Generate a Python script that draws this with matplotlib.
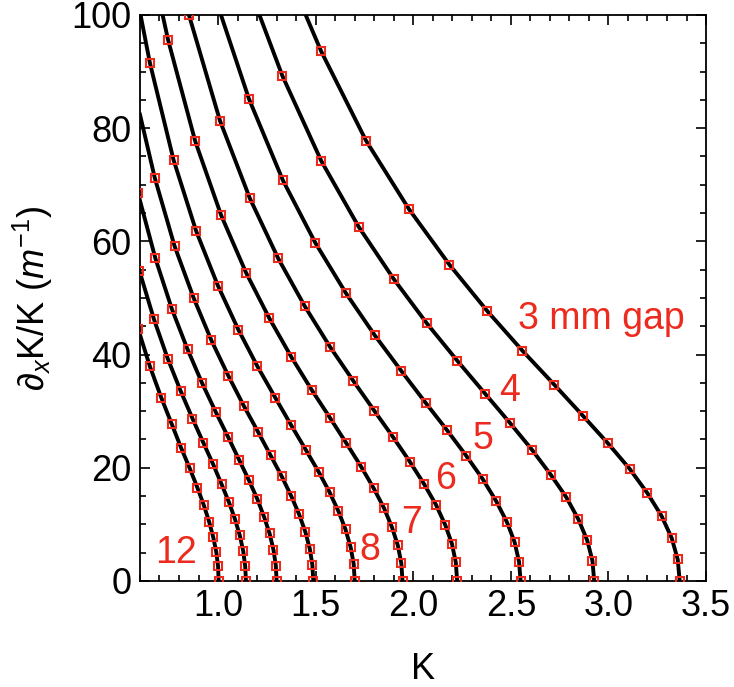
import matplotlib
matplotlib.use("Agg")
import matplotlib.pyplot as plt
from matplotlib.ticker import MultipleLocator

plt.rcParams["font.family"] = ["Liberation Sans", "DejaVu Sans"]
plt.rcParams["mathtext.fontset"] = "custom"
plt.rcParams["mathtext.rm"] = "Liberation Sans"
plt.rcParams["mathtext.it"] = "Liberation Sans:italic"

# puntos rojos (K, dK/K), uno por gap
gaps = [3, 4, 5, 6, 7, 8, 9, 10, 11, 12]

K_g3 = [3.365, 3.355, 3.324, 3.272, 3.200, 3.109, 2.998, 2.869, 2.722, 2.559, 2.379, 2.185, 1.978, 1.758, 1.528]
d_g3 = [0, 3.8, 7.6, 11.5, 15.5, 19.8, 24.3, 29.2, 34.7, 40.7, 47.7, 55.9, 65.7, 77.8, 93.6]

K_g4 = [2.927, 2.918, 2.891, 2.846, 2.784, 2.704, 2.608, 2.496, 2.368, 2.226, 2.070, 1.901, 1.720, 1.529, 1.329]
d_g4 = [0, 3.6, 7.2, 10.9, 14.8, 18.8, 23.2, 27.9, 33.1, 38.9, 45.5, 53.3, 62.6, 74.2, 89.3]

K_g5 = [2.550, 2.542, 2.519, 2.480, 2.425, 2.356, 2.272, 2.174, 2.063, 1.939, 1.803, 1.656, 1.499, 1.332, 1.158]
d_g5 = [0, 3.4, 6.9, 10.4, 14.1, 18.0, 22.1, 26.6, 31.5, 37.1, 43.4, 50.8, 59.7, 70.8, 85.2]

K_g6 = [2.225, 2.218, 2.198, 2.164, 2.116, 2.056, 1.982, 1.897, 1.800, 1.692, 1.573, 1.445, 1.308, 1.163, 1.010, 0.851]
d_g6 = [0, 3.3, 6.6, 9.9, 13.5, 17.1, 21.1, 25.4, 30.1, 35.4, 41.4, 48.5, 57.0, 67.6, 81.3, 100.0]

K_g7 = [1.945, 1.939, 1.921, 1.891, 1.850, 1.797, 1.733, 1.658, 1.574, 1.479, 1.375, 1.263, 1.143, 1.016, 0.883, 0.744]
d_g7 = [0, 3.1, 6.3, 9.5, 12.9, 16.4, 20.2, 24.3, 28.8, 33.8, 39.6, 46.4, 54.5, 64.6, 77.7, 95.6]

K_g8 = [1.700, 1.695, 1.679, 1.653, 1.617, 1.571, 1.515, 1.449, 1.375, 1.293, 1.202, 1.104, 0.999, 0.888, 0.772, 0.651]
d_g8 = [0, 3.0, 6.0, 9.1, 12.3, 15.7, 19.3, 23.2, 27.5, 32.4, 37.9, 44.4, 52.2, 61.8, 74.4, 91.5]

K_g9 = [1.488, 1.483, 1.470, 1.447, 1.415, 1.375, 1.326, 1.269, 1.204, 1.131, 1.052, 0.966, 0.875, 0.777, 0.676]
d_g9 = [0, 2.9, 5.7, 8.7, 11.8, 15.0, 18.5, 22.2, 26.4, 31.0, 36.3, 42.5, 50.0, 59.2, 71.2]

K_g10 = [1.300, 1.296, 1.284, 1.264, 1.236, 1.201, 1.158, 1.108, 1.052, 0.989, 0.919, 0.844, 0.764, 0.679, 0.590]
d_g10 = [0, 2.7, 5.5, 8.4, 11.3, 14.5, 17.8, 21.4, 25.4, 29.8, 34.9, 40.9, 48.0, 57.0, 68.5]

K_g11 = [1.143, 1.139, 1.129, 1.111, 1.087, 1.056, 1.018, 0.975, 0.925, 0.869, 0.808, 0.742, 0.672, 0.597]
d_g11 = [0, 2.6, 5.3, 8.1, 10.9, 13.9, 17.1, 20.6, 24.4, 28.7, 33.6, 39.3, 46.2, 54.8]

K_g12 = [1.003, 1.000, 0.991, 0.975, 0.954, 0.927, 0.894, 0.855, 0.811, 0.763, 0.709, 0.651, 0.590]
d_g12 = [0, 2.6, 5.1, 7.8, 10.5, 13.4, 16.5, 19.9, 23.5, 27.7, 32.4, 37.9, 44.6]

# donde cada curva negra sale del recuadro
edge_K = [1.449, 1.212, 1.015, 0.851, 0.716, 0.603, 0.600, 0.590, 0.597, 0.590]
edge_d = [100, 100, 100, 100, 100, 100, 82.4, 68.5, 54.8, 44.6]

# etiquetas rojas
lab_txt = ["4", "5", "6", "7", "8", "12"]
lab_K = [2.493, 2.355, 2.168, 1.993, 1.778, 0.784]
lab_d = [33.6, 25.1, 18.0, 10.2, 5.5, 4.9]

K_all = [K_g3, K_g4, K_g5, K_g6, K_g7, K_g8, K_g9, K_g10, K_g11, K_g12]
d_all = [d_g3, d_g4, d_g5, d_g6, d_g7, d_g8, d_g9, d_g10, d_g11, d_g12]

rojo = "#ec2a1e"

fig = plt.figure(figsize=(7.34, 6.87), dpi=100)
ax = fig.add_axes([0.1907, 0.1543, 0.7712, 0.8239])

for i in range(len(gaps)):
    xs = K_all[i] + [edge_K[i]]
    ys = d_all[i] + [edge_d[i]]
    ax.plot(xs, ys, color="black", lw=2.8, solid_joinstyle="round", zorder=2)
    ax.plot(K_all[i], d_all[i], ls="none", marker="s", ms=6.2, mfc="none",
            mec=rojo, mew=1.5, zorder=3)

ax.text(2.537, 44.5, "3 mm gap", color=rojo, fontsize=27, ha="left", va="baseline")
for t, kx, dy in zip(lab_txt, lab_K, lab_d):
    ax.text(kx, dy, t, color=rojo, fontsize=27, ha="center", va="center")

ax.set_xlim(0.6, 3.5)
ax.set_ylim(0, 100)
ax.xaxis.set_major_locator(MultipleLocator(0.5))
ax.xaxis.set_minor_locator(MultipleLocator(0.1))
ax.yaxis.set_major_locator(MultipleLocator(20))
ax.yaxis.set_minor_locator(MultipleLocator(5))
ax.set_xticks([1.0, 1.5, 2.0, 2.5, 3.0, 3.5])
ax.set_xticklabels(["1.0", "1.5", "2.0", "2.5", "3.0", "3.5"])
ax.tick_params(which="both", direction="in", top=True, right=True, width=1.2)
ax.tick_params(which="major", length=7, labelsize=26, pad=6)
ax.tick_params(which="minor", length=4)
for s in ax.spines.values():
    s.set_linewidth(1.3)

ax.set_xlabel("K", fontsize=26, labelpad=20)
ax.set_ylabel(r"$\partial_x$K/K ($m^{-1}$)", fontsize=26, labelpad=12)

fig.savefig("out.png", dpi=100)
